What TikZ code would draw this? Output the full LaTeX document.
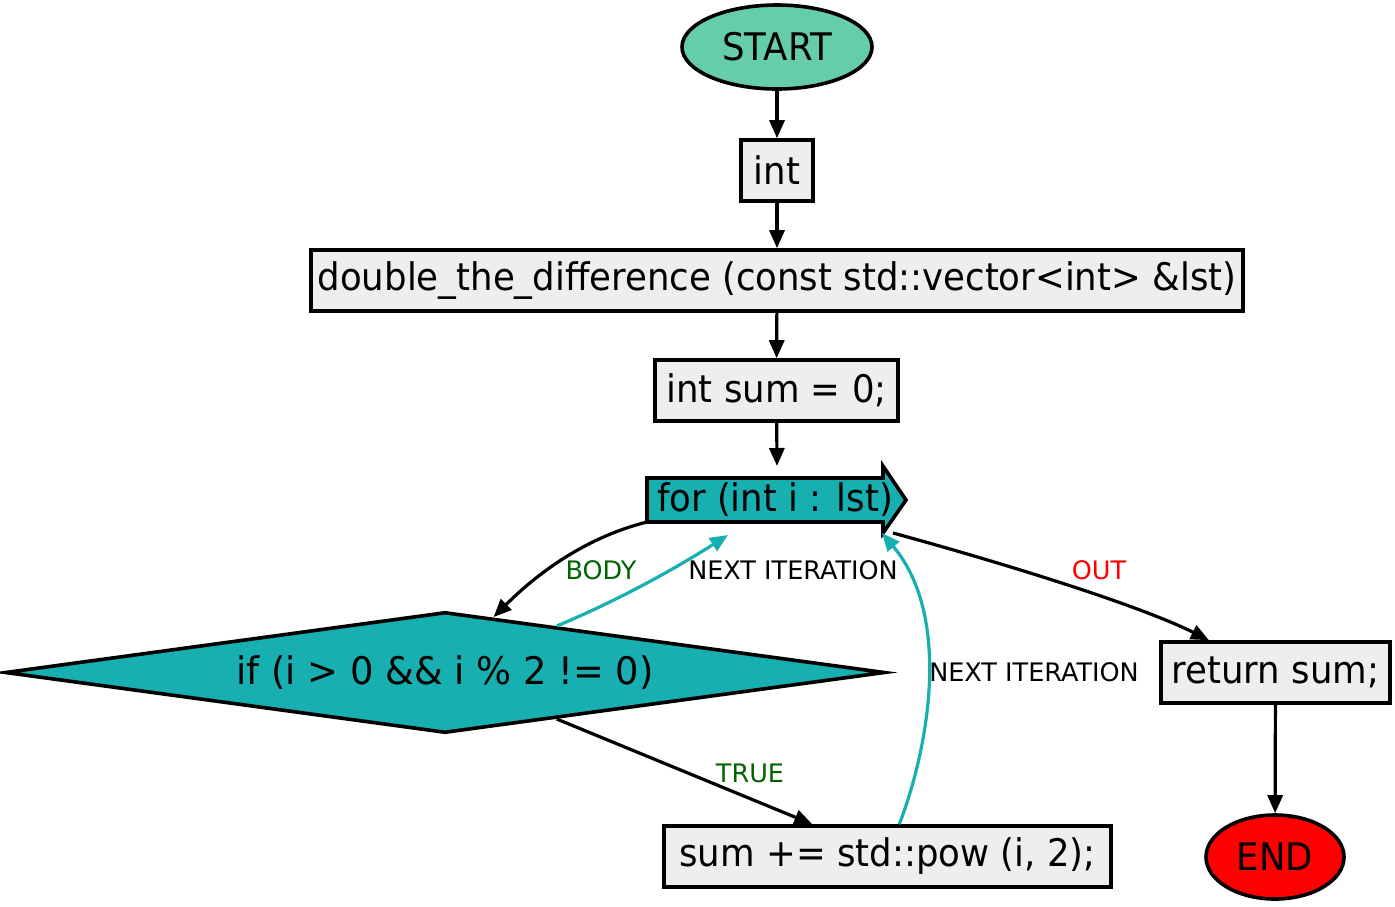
\documentclass[tikz,border=0pt]{standalone}
\usepackage{fontspec}
\setmainfont{DejaVu Sans}
\newfontfamily\nodefont{DejaVu Sans}[FakeStretch=0.935]
\newfontfamily\condfont{DejaVu Sans}[FakeStretch=0.97]
\usepackage{tikz}
\usetikzlibrary{calc,arrows.meta,shapes.geometric}
\definecolor{boxgray}{HTML}{EEEEEE}
\definecolor{startgreen}{HTML}{66CDAA}
\definecolor{loopteal}{HTML}{17AFAF}
\definecolor{endred}{HTML}{FF0000}
\definecolor{labgreen}{HTML}{006400}
\definecolor{labred}{HTML}{FF0000}
\tikzset{
  base/.style={draw=black, line width=3.6pt, line join=miter},
  stmt/.style={base, rectangle, fill=boxgray, minimum height=61pt, inner sep=0pt, font=\nodefont\fontsize{38}{44}\selectfont},
  term/.style={base, ellipse, inner sep=0pt, font=\nodefont\fontsize{38}{44}\selectfont},
  cond/.style={base, diamond, fill=loopteal, inner sep=0pt, font=\condfont\fontsize{38}{44}\selectfont},
  flow/.style={draw=black, line width=3.2pt, -{Triangle[length=18pt,width=15pt]}},
  back/.style={flow, draw=loopteal},
  lab/.style={inner sep=0pt, font=\fontsize{25.5}{30}\selectfont}
}

\begin{document}
\begin{tikzpicture}[x=1pt,y=-1pt]
  \useasboundingbox (0,0) rectangle (1395,906);

  % straight part
  \node[term, fill=startgreen, minimum width=190pt, minimum height=84pt] (start) at (777,47) {START};
  \node[stmt, minimum width=72pt] (rtype) at (777,170.5) {int};
  \node[stmt, minimum width=932pt] (func) at (777,280.5) {double\_the\_difference (const std::vector<int> \&lst)};
  \node[stmt, minimum width=243pt] (init) at (776.5,390.5) {int sum = 0;};

  % loop header
  \coordinate (forN) at (777,466);
  \coordinate (forSW) at (647,522);
  \coordinate (forNI) at (728,535);
  \coordinate (forSE) at (882,533);
  \coordinate (forE) at (893,533);
  \draw[base, fill=loopteal] (647,478) -- (883,478) -- (883,466) -- (906,500)
    -- (883,533) -- (883,522) -- (647,522) -- cycle;
  \node[inner sep=0pt, font=\nodefont\fontsize{38}{44}\selectfont] (for) at (775,500) {for (int i : lst)};

  \node[cond, aspect=7.27, minimum width=880pt, minimum height=121pt] (cond) at (445,672.5) {if (i > 0 \&\& i \% 2 != 0)};
  \node[stmt, minimum width=447pt] (body) at (887.5,856.5) {sum += std::pow (i, 2);};
  \node[stmt, minimum width=229pt] (ret) at (1275.5,672.5) {return sum;};
  \node[term, fill=endred, minimum width=138pt, minimum height=84pt] (stop) at (1275,857) {END};

  \coordinate (condA) at ($(cond.north)!0.11!(cond.east)$);
  \coordinate (condB) at ($(cond.north)!0.253!(cond.east)$);
  \coordinate (condC) at ($(cond.south)!0.253!(cond.east)$);
  \coordinate (bodyT) at ($(body.north west)!0.333!(body.north east)$);
  \coordinate (bodyB) at ($(body.north west)!0.526!(body.north east)$);
  \coordinate (retN) at ($(ret.north west)!0.214!(ret.north east)$);

  % edges
  \draw[flow] (start) -- (rtype);
  \draw[flow] (rtype) -- (func);
  \draw[flow] (func) -- (init);
  \draw[flow] (init) -- (forN);
  \draw[flow] (forSW) .. controls +(-60,15) and +(45,-45) .. (condA);
  \draw[back] (condB) .. controls +(60,-25) and +(-55,35) .. (forNI);
  \draw[flow] (condC) -- (bodyT);
  \draw[back] (bodyB) .. controls +(26,-66) and +(73,87) .. (forSE);
  \draw[flow] (forE) .. controls +(110,30) and +(-70,-35) .. (retN);
  \draw[flow] (ret) -- (stop);

  % labels
  \node[lab, text=labgreen] (lbody) at (601,570) {BODY};
  \node[lab] (lnext) at (793,570) {NEXT ITERATION};
  \node[lab, text=labgreen] (ltrue) at (750,773) {TRUE};
  \node[lab] (lnext2) at (1034,672) {NEXT ITERATION};
  \node[lab, text=labred] (lout) at (1099,570) {OUT};
\end{tikzpicture}
\end{document}
